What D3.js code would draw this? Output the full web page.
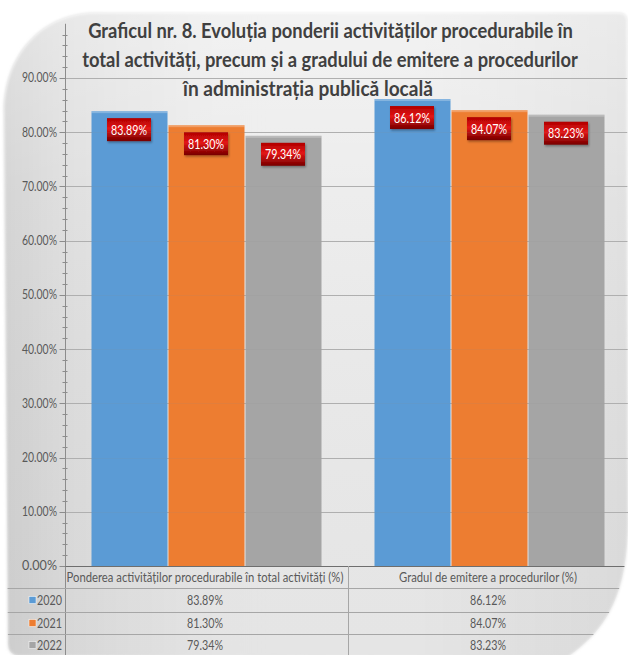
<!DOCTYPE html>
<html>
<head>
<meta charset="utf-8">
<script src="https://cdn.jsdelivr.net/npm/d3@7/dist/d3.min.js"></script>
<style>
  html, body { margin: 0; padding: 0; background: #ffffff; }
  svg { display: block; }
  text { font-family: Lato, "Open Sans", "Noto Sans", sans-serif; }
</style>
</head>
<body>
<svg id="chart" width="628" height="655"></svg>
<script>
// ---- data ----
const titleLines = [
  "Graficul nr. 8. Evoluția ponderii activităților procedurabile în",
  "total activități, precum și a gradului de emitere a procedurilor",
  "în administrația publică locală"
];
const categories = [
  "Ponderea activităților procedurabile în total activități (%)",
  "Gradul de emitere a procedurilor (%)"
];
const years = ["2020", "2021", "2022"];
const values2020 = [0.8389, 0.8612];
const values2021 = [0.8130, 0.8407];
const values2022 = [0.7934, 0.8323];
const yTickValues = [0, 0.1, 0.2, 0.3, 0.4, 0.5, 0.6, 0.7, 0.8, 0.9];
const yearColors = ["#5b9bd5", "#ed7d31", "#a5a5a5"];

const series = [values2020, values2021, values2022];
const pct = d3.format(".2%");

const svg = d3.select("#chart");
const W = 628, H = 655;

// compress a text element horizontally to a given width, keeping its anchor point fixed
function squeeze(sel, width) {
  sel.each(function () {
    const t = d3.select(this);
    const w = this.getComputedTextLength();
    if (!w) return;
    const s = width / w;
    const ax = +t.attr("x");
    t.attr("transform", `translate(${ax},0) scale(${s},1) translate(${-ax},0)`);
  });
}

// ---- defs: frame, gradients ----
const defs = svg.append("defs");
const framePath = "M 96 13 L 619 13 Q 627 13 627 21 L 628 520 C 628 592 608 630 566 658 L 18 656 Q 8 654 8 644 L 4 112 C 4 55 42 13 96 13 Z";

defs.append("clipPath").attr("id", "frameClip").append("path").attr("d", framePath);

const bg = defs.append("linearGradient").attr("id", "bgGrad")
  .attr("x1", "0").attr("y1", "0").attr("x2", "1").attr("y2", "0");
[[0, "#d2d2d2"], [0.1, "#dedede"], [0.35, "#ebebeb"], [0.65, "#ececec"], [1, "#e0e0e0"]]
  .forEach(([o, c]) => bg.append("stop").attr("offset", o).attr("stop-color", c));

const bgV = defs.append("linearGradient").attr("id", "bgGradV")
  .attr("x1", "0").attr("y1", "0").attr("x2", "0").attr("y2", "1");
[[0, "#ffffff", 0.35], [0.3, "#ffffff", 0.05], [1, "#000000", 0.03]]
  .forEach(([o, c, a]) => bgV.append("stop").attr("offset", o).attr("stop-color", c).attr("stop-opacity", a));

const lab = defs.append("linearGradient").attr("id", "labGrad")
  .attr("x1", "0").attr("y1", "0").attr("x2", "0").attr("y2", "1");
[[0, "#b00000"], [0.45, "#e31515"], [1, "#760000"]]
  .forEach(([o, c]) => lab.append("stop").attr("offset", o).attr("stop-color", c));

const soft = defs.append("filter").attr("id", "soft")
  .attr("x", "-5%").attr("y", "-5%").attr("width", "110%").attr("height", "110%");
soft.append("feGaussianBlur").attr("stdDeviation", 1.6);

const shadow = defs.append("filter").attr("id", "shadow")
  .attr("x", "-20%").attr("y", "-20%").attr("width", "140%").attr("height", "150%");
shadow.append("feDropShadow").attr("dx", 1).attr("dy", 1.5).attr("stdDeviation", 1)
  .attr("flood-color", "#000").attr("flood-opacity", 0.35);

// frame background
svg.append("path").attr("d", framePath).attr("fill", "url(#bgGrad)").attr("filter", "url(#soft)");
const root = svg.append("g").attr("clip-path", "url(#frameClip)");
root.append("rect").attr("x", 0).attr("y", 0).attr("width", W).attr("height", H).attr("fill", "url(#bgGradV)");

// ---- scales ----
const plotLeft = 65.5, catWidth = 283, baseY = 566;
const x0 = d3.scaleBand().domain(categories).range([plotLeft, plotLeft + catWidth * categories.length]).padding(0);
const x1 = d3.scaleBand().domain(years).range([0, x0.bandwidth()]).paddingInner(0).paddingOuter(0.3377);
const y = d3.scaleLinear().domain([0, 0.9]).range([baseY, 78]);
const yMax = 1.0;

// gridlines
root.append("g").selectAll("line").data(yTickValues.filter(v => v > 0)).join("line")
  .attr("x1", plotLeft).attr("x2", W)
  .attr("y1", d => Math.round(y(d)) + 0.5).attr("y2", d => Math.round(y(d)) + 0.5)
  .attr("stroke", "#b4b4b4").attr("stroke-width", 1);

// bars
const groups = root.append("g").selectAll("g").data(categories).join("g")
  .attr("transform", d => `translate(${x0(d)},0)`);

const barData = (c, ci) => years.map((yr, si) => ({ year: yr, si, value: series[si][ci] }));

groups.each(function (c, ci) {
  const g = d3.select(this);
  const data = barData(c, ci);
  g.selectAll("rect.bar").data(data).join("rect").attr("class", "bar")
    .attr("x", d => x1(d.year))
    .attr("y", d => y(d.value))
    .attr("width", x1.bandwidth() - 1)
    .attr("height", d => baseY - y(d.value))
    .attr("fill", d => yearColors[d.si]);
  g.selectAll("rect.edge").data(data).join("rect").attr("class", "edge")
    .attr("x", d => x1(d.year))
    .attr("y", d => y(d.value))
    .attr("width", x1.bandwidth() - 1)
    .attr("height", 2)
    .attr("fill", "#ffffff").attr("opacity", 0.25);
});

// faint gridlines showing through bars
root.append("g").selectAll("line").data(yTickValues.filter(v => v > 0)).join("line")
  .attr("x1", plotLeft).attr("x2", W)
  .attr("y1", d => Math.round(y(d)) + 0.5).attr("y2", d => Math.round(y(d)) + 0.5)
  .attr("stroke", "#8a8a8a").attr("stroke-opacity", 0.12);

// value labels
groups.each(function (c, ci) {
  const g = d3.select(this);
  const data = barData(c, ci);
  const lg = g.selectAll("g.lab").data(data).join("g").attr("class", "lab")
    .attr("transform", d => `translate(${x1(d.year) + x1.bandwidth() / 2 - 1},${y(d.value) + 7})`);
  lg.append("rect").attr("x", -22).attr("y", 0).attr("width", 44).attr("height", 23)
    .attr("fill", "url(#labGrad)").attr("filter", "url(#shadow)");
  lg.append("text").attr("x", 0).attr("y", 16.5)
    .attr("text-anchor", "middle").attr("fill", "#ffffff")
    .attr("font-size", 14)
    .text(d => pct(d.value))
    .call(squeeze, 36);
});

// y axis: line, major and minor ticks, labels
const axisG = root.append("g");
axisG.append("line").attr("x1", plotLeft).attr("x2", plotLeft)
  .attr("y1", y(yMax)).attr("y2", H).attr("stroke", "#8c8c8c");
const minorTicks = d3.range(0, 50).map(i => i * 0.02).filter(v => Math.round(v * 100) % 10 !== 0);
axisG.selectAll("line.minor").data(minorTicks).join("line").attr("class", "minor")
  .attr("x1", plotLeft - 3).attr("x2", plotLeft + 2)
  .attr("y1", d => Math.round(y(d)) + 0.5).attr("y2", d => Math.round(y(d)) + 0.5)
  .attr("stroke", "#8c8c8c");
axisG.selectAll("line.major").data(yTickValues).join("line").attr("class", "major")
  .attr("x1", plotLeft - 6).attr("x2", plotLeft)
  .attr("y1", d => Math.round(y(d)) + 0.5).attr("y2", d => Math.round(y(d)) + 0.5)
  .attr("stroke", "#8c8c8c");
axisG.selectAll("text").data(yTickValues).join("text")
  .attr("x", 57).attr("y", d => y(d) + 4.5)
  .attr("text-anchor", "end").attr("font-size", 13).attr("fill", "#595959")
  .text(d => pct(d))
  .call(squeeze, 35);

// baseline
root.append("line").attr("x1", plotLeft).attr("x2", W)
  .attr("y1", baseY + 0.5).attr("y2", baseY + 0.5).attr("stroke", "#6e6e6e").attr("stroke-width", 1.2);

// ---- data table ----
const rowTops = [588, 612, 634, 656];
const tableG = root.append("g");
tableG.selectAll("line.h").data(rowTops).join("line").attr("class", "h")
  .attr("x1", 0).attr("x2", W)
  .attr("y1", d => d + 0.5).attr("y2", d => d + 0.5)
  .attr("stroke", "#a6a6a6");
tableG.append("line").attr("x1", x0(categories[1])).attr("x2", x0(categories[1]))
  .attr("y1", baseY).attr("y2", H).attr("stroke", "#a6a6a6");
tableG.append("line").attr("x1", W - 0.5).attr("x2", W - 0.5)
  .attr("y1", baseY).attr("y2", H).attr("stroke", "#a6a6a6");

// header cells
const headerWidths = [277, 178];
tableG.selectAll("text.hdr").data(categories).join("text").attr("class", "hdr")
  .attr("x", (d, i) => x0(d) + x0.bandwidth() / 2 - 2)
  .attr("y", 582).attr("text-anchor", "middle").attr("font-size", 14).attr("fill", "#595959")
  .text(d => d)
  .each(function (d, i) { squeeze(d3.select(this), headerWidths[i]); });

// row labels with legend keys, and values
years.forEach((yr, si) => {
  const cy = (rowTops[si] + rowTops[si + 1]) / 2;
  tableG.append("rect").attr("x", 29).attr("y", cy - 3.5).attr("width", 7).attr("height", 7)
    .attr("fill", yearColors[si]).attr("stroke", "#ffffff").attr("stroke-width", 0.5);
  tableG.append("text")
    .attr("x", 37).attr("y", cy + 5).attr("font-size", 14).attr("fill", "#595959")
    .text(yr)
    .call(squeeze, 25);
  categories.forEach((c, ci) => {
    tableG.append("text")
      .attr("x", x0(c) + x0.bandwidth() / 2 - 2).attr("y", cy + 5)
      .attr("text-anchor", "middle").attr("font-size", 14).attr("fill", "#595959")
      .text(pct(series[si][ci]))
      .call(squeeze, 36);
  });
});

// ---- title ----
const titleLayout = [
  { x: 330.5, y: 38, w: 485 },
  { x: 330, y: 67, w: 496 },
  { x: 308, y: 96, w: 250 }
];
root.append("g").selectAll("text").data(titleLines).join("text")
  .attr("x", (d, i) => titleLayout[i].x).attr("y", (d, i) => titleLayout[i].y)
  .attr("text-anchor", "middle")
  .attr("font-weight", "bold").attr("font-size", 21).attr("fill", "#404040")
  .text(d => d)
  .each(function (d, i) { squeeze(d3.select(this), titleLayout[i].w); });
</script>
</body>
</html>
